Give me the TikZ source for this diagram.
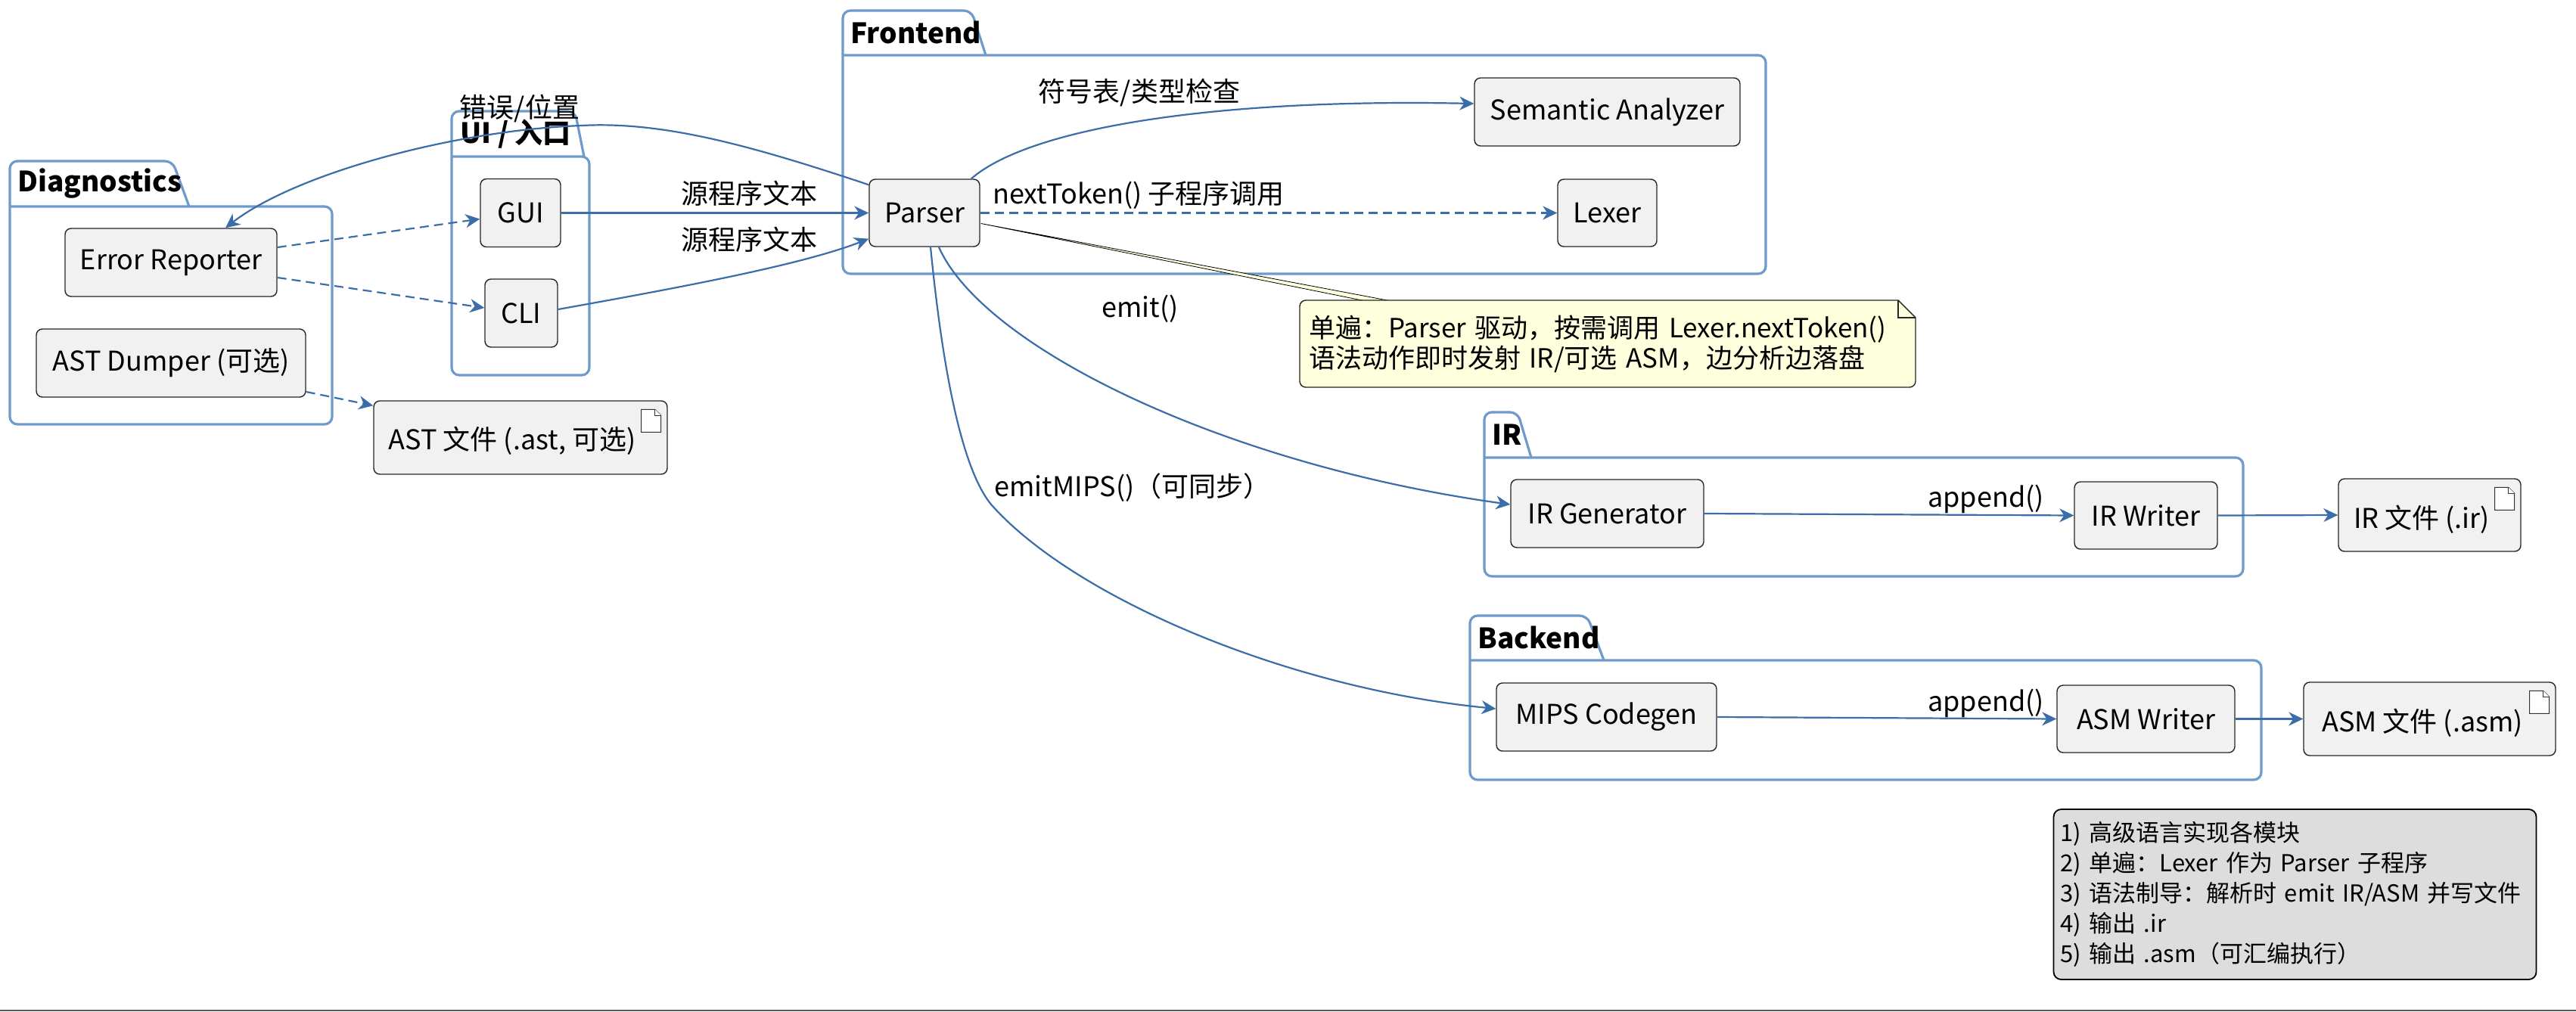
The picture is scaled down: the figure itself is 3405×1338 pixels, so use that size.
\documentclass[tikz,border=0pt]{standalone}
\usepackage{fontspec}
\setmainfont{Noto Sans CJK SC}
\usetikzlibrary{arrows.meta,calc}
\definecolor{pkgc}{HTML}{6E9BCB}
\definecolor{arrc}{HTML}{3B6EA8}
\definecolor{boxf}{HTML}{F1F1F1}
\definecolor{notef}{HTML}{FEFFDD}
\definecolor{legf}{HTML}{DDDDDD}
\tikzset{
  box/.style={draw=black!85, fill=boxf, rounded corners=4pt, line width=0.7pt, inner sep=0pt, align=center},
  pkg/.style={draw=pkgc, line width=1.6pt, rounded corners=5pt},
  conn/.style={draw=arrc, line width=1.1pt, -{Stealth[length=9.5pt,width=9pt,inset=3pt]}},
  dconn/.style={conn, dash pattern=on 6pt off 3.5pt},
  lbl/.style={inner sep=0pt},
  ttl/.style={font=\fontsize{18.5}{22}\selectfont\bfseries, anchor=west, inner sep=0pt},
  docic/.style={draw=black!80, fill=white, line width=0.5pt},
}
\newcommand{\pkgshape}[7]{% L TT TRt TRb BT R B
  \draw[pkg] (#4,#5) -- (#3,#2) -- (#1,#2) -- (#1,#7) -- (#6,#7) -- (#6,#5) -- (#1,#5);
}
\newcommand{\docicon}[1]{%
  \draw[docic] ($(#1.north east)+(-35,12)$) -- ($(#1.north east)+(-17,12)$) -- ($(#1.north east)+(-9,20)$) -- ($(#1.north east)+(-9,42)$) -- ($(#1.north east)+(-35,42)$) -- cycle;
  \draw[docic] ($(#1.north east)+(-17,12)$) -- ($(#1.north east)+(-17,20)$) -- ($(#1.north east)+(-9,20)$);
}
\begin{document}
\begin{tikzpicture}[x=0.5pt,y=-0.5pt,font=\fontsize{18}{20}\selectfont]
\useasboundingbox (0,0) rectangle (3405,1338);
\fill[white] (0,0) rectangle (3405,1338);

% packages
\pkgshape{13}{213}{228}{250}{273}{439}{561}
\pkgshape{597}{147}{760}{772}{207}{779}{496}
\pkgshape{1114}{14}{1284}{1303}{73}{2334}{362}
\pkgshape{1962}{545}{2006}{2024}{605}{2965}{762}
\pkgshape{1943}{814}{2098}{2120}{873}{2989}{1031}
\node[ttl] (tdiag) at (23,243) {Diagnostics};
\node[ttl] (tui) at (608,177) {UI / 入口};
\node[ttl] (tfront) at (1124,43) {Frontend};
\node[ttl] (tir) at (1972,575) {IR};
\node[ttl] (tback) at (1953,843) {Backend};

% nodes
\node[box, minimum width=140pt, minimum height=45pt] (err) at (226,347) {Error Reporter};
\node[box, minimum width=178pt, minimum height=45pt] (astd) at (226,480) {AST Dumper (可选)};
\node[box, minimum width=53pt, minimum height=45pt] (gui) at (688,281.5) {GUI};
\node[box, minimum width=48pt, minimum height=45pt] (cli) at (689,414) {CLI};
\node[box, minimum width=194pt, minimum height=48.5pt, label={[xshift=-5.5pt,yshift=-2pt]center:AST 文件 (.ast, 可选)}] (astf) at (688,578.5) {};
\docicon{astf}
\node[box, minimum width=73pt, minimum height=44.5pt] (parser) at (1222,281.5) {Parser};
\node[box, minimum width=175.5pt, minimum height=45pt] (sem) at (2124.5,148) {Semantic Analyzer};
\node[box, minimum width=65.5pt, minimum height=44.5pt] (lexer) at (2124.5,281.5) {Lexer};
\node[box, minimum width=127.5pt, minimum height=45pt] (irgen) at (2124.5,679) {IR Generator};
\node[box, minimum width=94.5pt, minimum height=44.5pt] (irw) at (2836.5,681.5) {IR Writer};
\node[box, minimum width=120.5pt, minimum height=48pt, label={[xshift=-5.25pt,yshift=-3pt]center:IR 文件 (.ir)}] (irf) at (3211.5,681) {};
\docicon{irf}
\node[box, minimum width=145.5pt, minimum height=45pt] (mips) at (2123.5,948) {MIPS Codegen};
\node[box, minimum width=117.5pt, minimum height=44.5pt] (asmw) at (2836.5,950.5) {ASM Writer};
\node[box, minimum width=166.5pt, minimum height=48.5pt, label={[xshift=-4.75pt,yshift=-2.75pt]center:ASM 文件 (.asm)}] (asmf) at (3211.5,950.5) {};
\docicon{asmf}

% note wedge and note
\draw[fill=notef, draw=black, line width=0.4pt] ($(parser.east)+(1,14)$) -- (1805,398) -- (1839,398) -- cycle;
\draw[fill=notef, draw=black!85, line width=0.7pt] (1718,512) [rounded corners=4pt] -- (1718,397) [sharp corners] -- (2509,397) -- (2532,420) [rounded corners=4pt] -- (2532,512) -- cycle;
\draw[black!85, line width=0.6pt] (2509,397) -- (2509,420) -- (2532,420);
\node[inner sep=0pt, inner xsep=6pt, text width=395pt, minimum height=57.5pt, align=left, font=\fontsize{17.5}{20}\selectfont] (note) at (2125,454.5) {单遍：Parser 驱动，按需调用 Lexer.nextToken()\\语法动作即时发射 IR/可选 ASM，边分析边落盘};

% legend
\node[draw=black, fill=legf, rounded corners=5pt, line width=0.9pt, inner sep=0pt, inner xsep=4.5pt, text width=310pt, minimum height=112.5pt, align=left, font=\fontsize{15.5}{20}\selectfont] (legend) at (3033.5,1182.5) {\mbox{1) 高级语言实现各模块}\\\mbox{2) 单遍：Lexer 作为 Parser 子程序}\\\mbox{3) 语法制导：解析时 emit IR/ASM 并写文件}\\\mbox{4) 输出 .ir}\\\mbox{5) 输出 .asm（可汇编执行）}};

% connectors
\draw[conn] ($(parser.north west)+(0,8)$) .. controls (1000,195) and (880,160) .. (769,166) .. controls (600,172) and (390,230) .. ($(err.north)+(72,0)$);
\node[lbl] (l1) at (687,143) {错误/位置};
\draw[dconn] ($(err.east)+(0,-20)$) -- ($(gui.west)+(0,8)$);
\draw[dconn] ($(err.east)+(0,20)$) -- ($(cli.west)+(0,-7)$);
\draw[dconn] ($(astd.east)+(0,38)$) -- ($(astf.north west)+(0,7)$);
\draw[conn] (gui.east) -- (parser.west);
\node[lbl] (l2) at (990,256) {源程序文本};
\draw[conn] ($(cli.east)+(0,-5)$) .. controls (900,380) and (1060,350) .. ($(parser.south west)+(0,-11)$);
\node[lbl] (l3) at (990,317) {源程序文本};
\draw[conn] ($(parser.north east)+(-12,0)$) .. controls (1360,170) and (1600,130) .. ($(sem.west)+(0,-11)$);
\node[lbl] (l4) at (1506,122) {符号表/类型检查};
\draw[dconn] (parser.east) -- (lexer.west);
\node[lbl] (l5) at (1505,258) {nextToken() 子程序调用};
\draw[conn] ($(parser.south)+(19,0)$) .. controls (1300,460) and (1620,615) .. ($(irgen.west)+(0,-12)$);
\node[lbl] (l6) at (1507,408) {emit()};
\draw[conn] ($(parser.south)+(8,0)$) .. controls (1245,480) and (1270,620) .. (1311,668) .. controls (1420,790) and (1700,910) .. ($(mips.west)+(0,-11)$);
\node[lbl] (l7) at (1497,645) {emitMIPS()（可同步）};
\draw[conn] (irgen.east) -- (irw.west);
\node[lbl] (l8) at (2625,660) {append()};
\draw[conn] (irw.east) -- (irf.west);
\draw[conn] (mips.east) -- (asmw.west);
\node[lbl] (l9) at (2625,930) {append()};
\draw[conn] (asmw.east) -- (asmf.west);

\draw[black!65, line width=1pt] (0,1336) -- (3405,1336);
\end{tikzpicture}
\end{document}
